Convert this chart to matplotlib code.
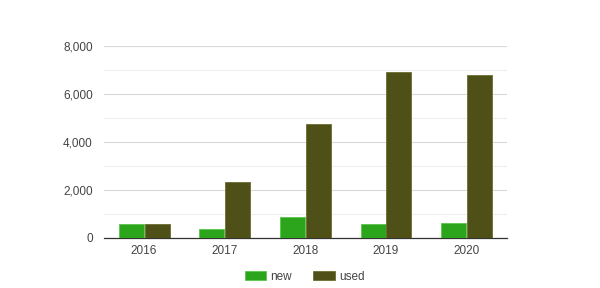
import matplotlib
matplotlib.use("Agg")
import matplotlib.pyplot as plt
import numpy as np

years = ["2016", "2017", "2018", "2019", "2020"]
new = [570, 360, 875, 600, 625]
used = [600, 2320, 4750, 6900, 6780]

plt.rcParams['font.family'] = ['Liberation Sans', 'DejaVu Sans']

fig = plt.figure(figsize=(6, 2.88), dpi=100)
ax = fig.add_axes([0.173, 0.174, 0.672, 0.666])

x = np.arange(len(years))
w = 0.31
ax.bar(x - w/2 - 0.005, new, width=w, color="#2ca51c", edgecolor="#5cc44e", linewidth=0.6, label="new", zorder=3)
ax.bar(x + w/2 + 0.005, used, width=w, color="#4e5017", edgecolor="#6b6d30", linewidth=0.6, label="used", zorder=3)

ax.set_xlim(-0.5, len(years) - 0.5)
ax.set_ylim(0, 8000)
ax.set_yticks([0, 2000, 4000, 6000, 8000])
ax.set_yticklabels(["0", "2,000", "4,000", "6,000", "8,000"])
ax.set_yticks([1000, 3000, 5000, 7000], minor=True)
ax.grid(axis='y', which='major', color="#d9d9d9", linewidth=0.8, zorder=0)
ax.grid(axis='y', which='minor', color="#efefef", linewidth=0.8, zorder=0)
ax.set_xticks(x)
ax.set_xticklabels(years)
ax.tick_params(axis='both', which='both', length=0, labelsize=8.5, colors="#444444")
ax.tick_params(axis='y', pad=8)
ax.tick_params(axis='x', pad=5)
for s in ['top', 'right', 'left']:
    ax.spines[s].set_visible(False)
ax.spines['bottom'].set_color("#333333")
ax.spines['bottom'].set_linewidth(0.9)

fig.legend(loc='center', bbox_to_anchor=(0.508, 1 - 277/288), ncol=2, frameon=False,
           fontsize=8.5, handlelength=1.8, handleheight=0.8, handletextpad=0.4,
           columnspacing=1.8, labelcolor="#444444")

fig.savefig("out.png", dpi=100)
